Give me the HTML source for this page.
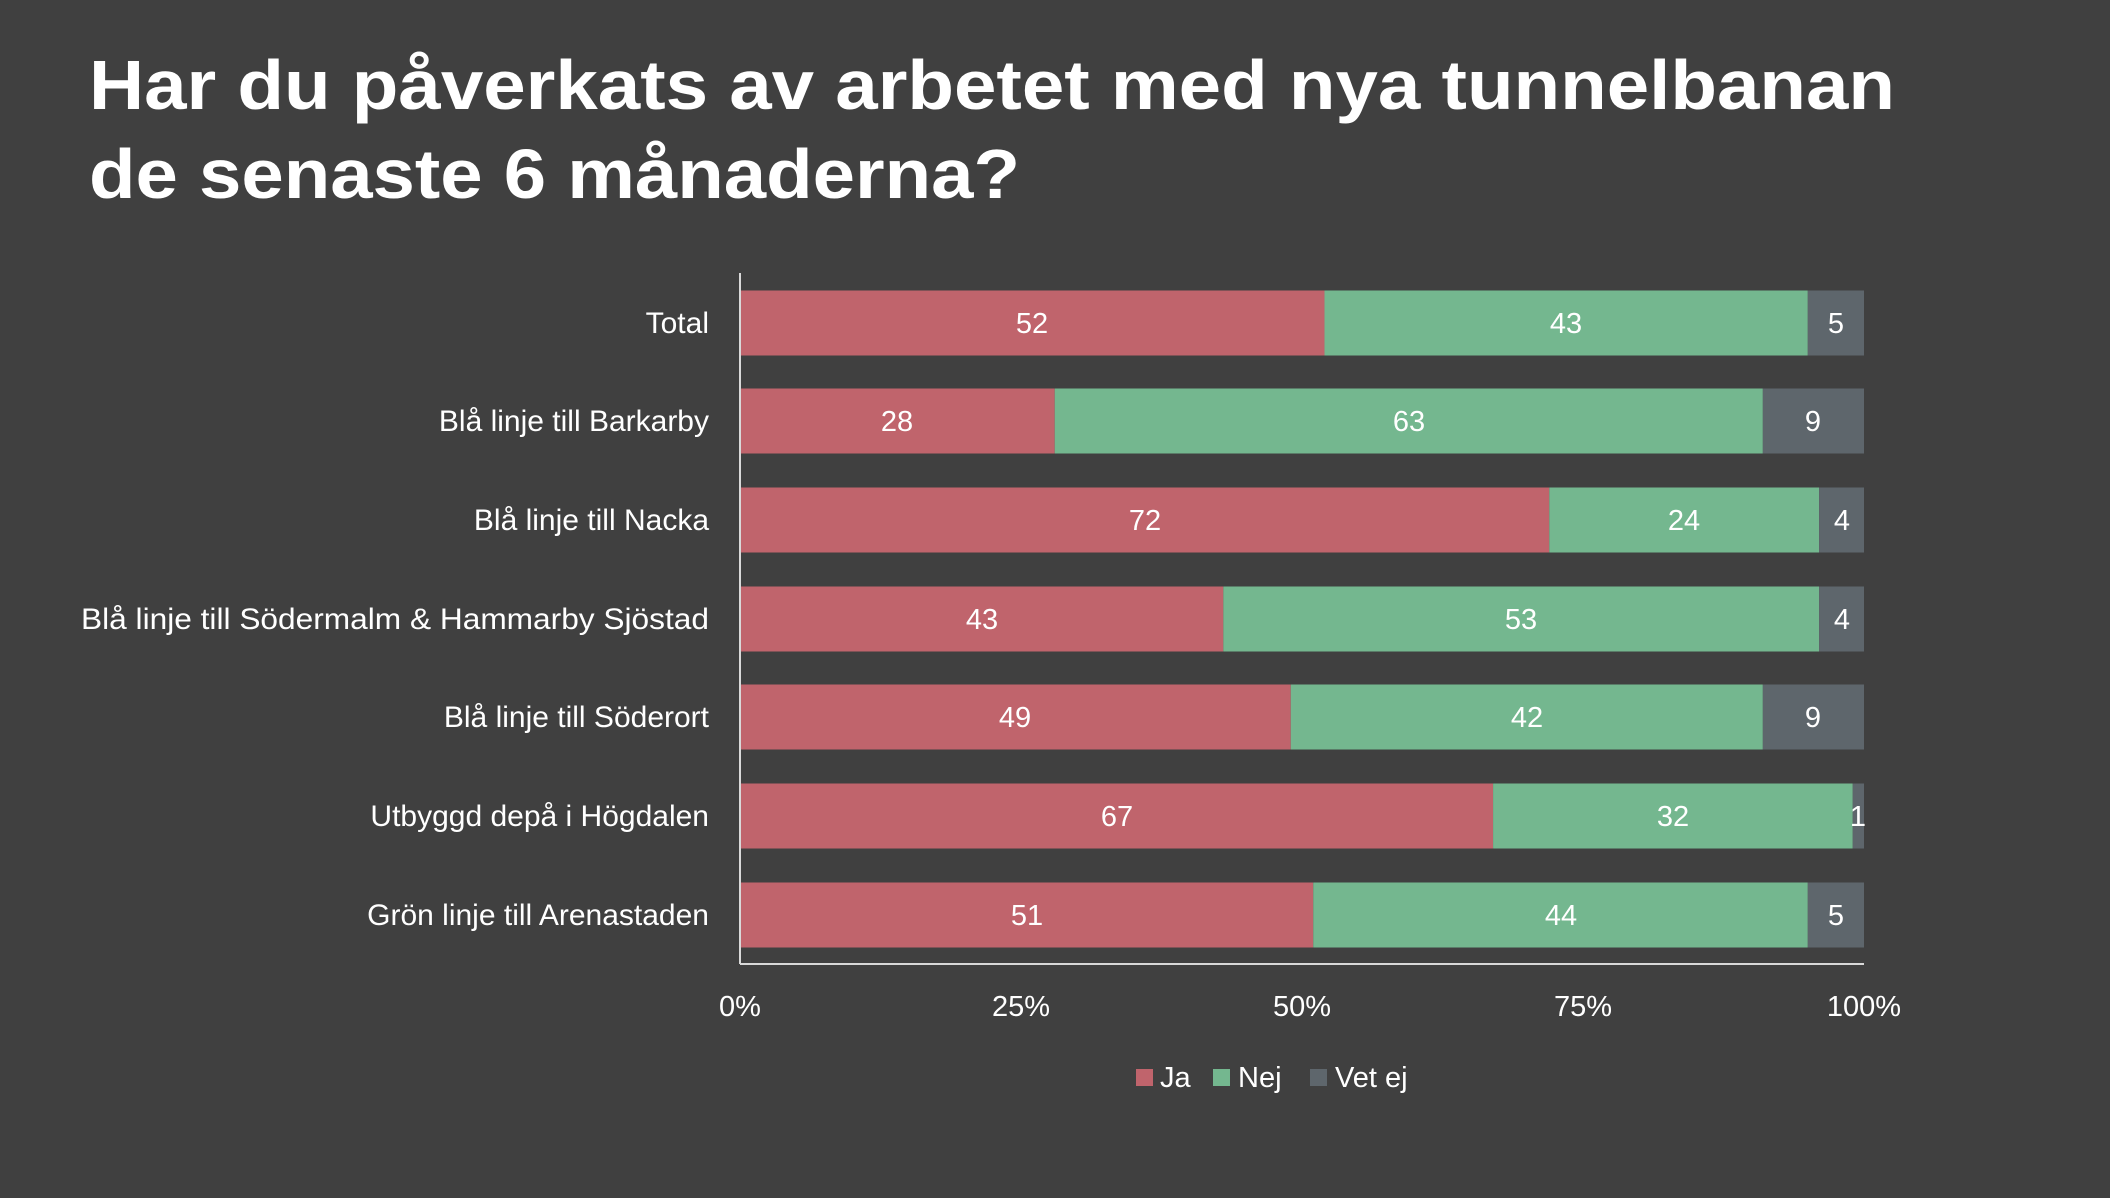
<!DOCTYPE html>
<html><head><meta charset="utf-8"><style>
html,body{margin:0;padding:0;background:#404040;}
svg{display:block;}
text{font-family:"Liberation Sans",sans-serif;fill:#fff;}
</style></head><body>
<svg width="2110" height="1198" viewBox="0 0 2110 1198" xmlns="http://www.w3.org/2000/svg">
<rect width="2110" height="1198" fill="#404040"/>
<text x="89" y="109" font-size="70" font-weight="bold" textLength="1806" lengthAdjust="spacingAndGlyphs">Har du påverkats av arbetet med nya tunnelbanan</text>
<text x="89" y="198" font-size="70" font-weight="bold" textLength="931" lengthAdjust="spacingAndGlyphs">de senaste 6 månaderna?</text>

<g font-size="30" text-anchor="end">
<text x="709" y="333">Total</text>
<text x="709" y="431">Blå linje till Barkarby</text>
<text x="709" y="530">Blå linje till Nacka</text>
<text x="709" y="629" textLength="628" lengthAdjust="spacingAndGlyphs">Blå linje till Södermalm &amp; Hammarby Sjöstad</text>
<text x="709" y="727">Blå linje till Söderort</text>
<text x="709" y="826">Utbyggd depå i Högdalen</text>
<text x="709" y="925">Grön linje till Arenastaden</text>
</g>

<g>
<rect x="740" y="290.5" width="584.48" height="65" fill="#c0646c"/><rect x="1324.48" y="290.5" width="483.32" height="65" fill="#74b78f"/><rect x="1807.8" y="290.5" width="56.2" height="65" fill="#5e666c"/>
<rect x="740" y="388.5" width="314.72" height="65" fill="#c0646c"/><rect x="1054.72" y="388.5" width="708.12" height="65" fill="#74b78f"/><rect x="1762.84" y="388.5" width="101.16" height="65" fill="#5e666c"/>
<rect x="740" y="487.5" width="809.28" height="65" fill="#c0646c"/><rect x="1549.28" y="487.5" width="269.76" height="65" fill="#74b78f"/><rect x="1819.04" y="487.5" width="44.96" height="65" fill="#5e666c"/>
<rect x="740" y="586.5" width="483.32" height="65" fill="#c0646c"/><rect x="1223.32" y="586.5" width="595.72" height="65" fill="#74b78f"/><rect x="1819.04" y="586.5" width="44.96" height="65" fill="#5e666c"/>
<rect x="740" y="684.5" width="550.76" height="65" fill="#c0646c"/><rect x="1290.76" y="684.5" width="472.08" height="65" fill="#74b78f"/><rect x="1762.84" y="684.5" width="101.16" height="65" fill="#5e666c"/>
<rect x="740" y="783.5" width="753.08" height="65" fill="#c0646c"/><rect x="1493.08" y="783.5" width="359.68" height="65" fill="#74b78f"/><rect x="1852.76" y="783.5" width="11.24" height="65" fill="#5e666c"/>
<rect x="740" y="882.5" width="573.24" height="65" fill="#c0646c"/><rect x="1313.24" y="882.5" width="494.56" height="65" fill="#74b78f"/><rect x="1807.8" y="882.5" width="56.2" height="65" fill="#5e666c"/>
</g>

<g font-size="29" text-anchor="middle">
<text x="1032" y="333">52</text><text x="1566" y="333">43</text><text x="1836" y="333">5</text>
<text x="897" y="431">28</text><text x="1409" y="431">63</text><text x="1813" y="431">9</text>
<text x="1145" y="530">72</text><text x="1684" y="530">24</text><text x="1842" y="530">4</text>
<text x="982" y="629">43</text><text x="1521" y="629">53</text><text x="1842" y="629">4</text>
<text x="1015" y="727">49</text><text x="1527" y="727">42</text><text x="1813" y="727">9</text>
<text x="1117" y="826">67</text><text x="1673" y="826">32</text><text x="1858" y="826">1</text>
<text x="1027" y="925">51</text><text x="1561" y="925">44</text><text x="1836" y="925">5</text>
</g>

<line x1="740" y1="273" x2="740" y2="964" stroke="#d9d9d9" stroke-width="2"/>
<line x1="740" y1="964" x2="1864" y2="964" stroke="#d9d9d9" stroke-width="2"/>
<g font-size="29" text-anchor="middle">
<text x="740" y="1016">0%</text><text x="1021" y="1016">25%</text><text x="1302" y="1016">50%</text><text x="1583" y="1016">75%</text><text x="1864" y="1016">100%</text>
</g>
<rect x="1136" y="1069" width="17" height="17" fill="#c0646c"/>
<text x="1160" y="1087" font-size="29">Ja</text>
<rect x="1213" y="1069" width="17" height="17" fill="#74b78f"/>
<text x="1238" y="1087" font-size="29">Nej</text>
<rect x="1310" y="1069" width="17" height="17" fill="#5e666c"/>
<text x="1335" y="1087" font-size="29">Vet ej</text>
</svg>
</body></html>
